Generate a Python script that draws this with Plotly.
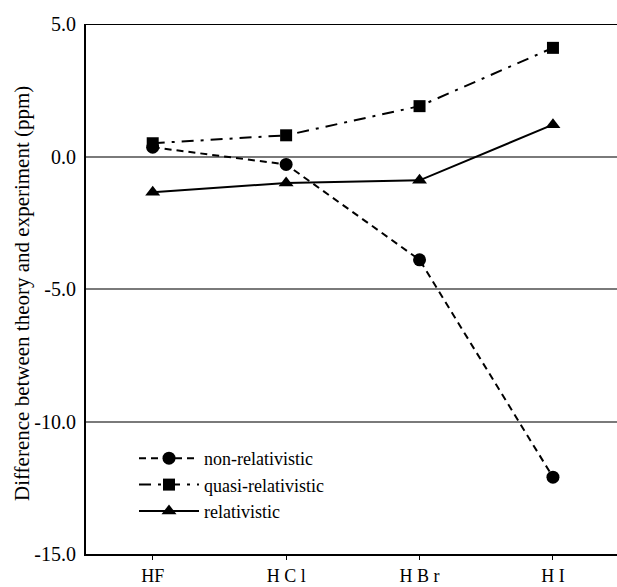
import plotly.graph_objects as go

categories = ["HF", "H C l", "H B r", "H I"]
non_relativistic = [0.35, -0.3, -3.9, -12.1]
quasi_relativistic = [0.5, 0.8, 1.9, 4.1]
relativistic = [-1.35, -1.0, -0.9, 1.2]
y_ticks = [5.0, 0.0, -5.0, -10.0, -15.0]
y_tick_labels = ["5.0", "0.0", "-5.0", "-10.0", "-15.0"]
y_title = "Difference between theory and experiment (ppm)"

SERIF = "Liberation Serif, Times New Roman, Times, serif"

fig = go.Figure()
fig.add_trace(go.Scatter(
    x=categories, y=non_relativistic, name="non-relativistic",
    mode="lines+markers",
    line=dict(color="black", width=2, dash="7px,5px"),
    marker=dict(symbol="circle", size=13, color="black")))
fig.add_trace(go.Scatter(
    x=categories, y=quasi_relativistic, name="quasi-relativistic",
    mode="lines+markers",
    line=dict(color="black", width=2, dash="12px,7px,3px,7px"),
    marker=dict(symbol="square", size=12, color="black")))
fig.add_trace(go.Scatter(
    x=categories, y=relativistic, name="relativistic",
    mode="lines+markers",
    line=dict(color="black", width=2),
    marker=dict(symbol="triangle-up", size=13, color="black")))

fig.add_shape(type="line", xref="paper", yref="y", x0=0, x1=1, y0=5, y1=5,
              line=dict(color="black", width=2))

plot_bottom = 554
plot_w = 617 - 86
plot_h = plot_bottom - 24
fig.add_annotation(text=y_title, textangle=-90, showarrow=False,
                   xref="paper", yref="paper",
                   x=(22 - 86) / plot_w, y=(plot_bottom - 294) / plot_h,
                   xanchor="center", yanchor="middle",
                   font=dict(size=21))

fig.update_layout(
    width=617, height=587,
    margin=dict(l=86, r=0, t=24, b=587 - plot_bottom, autoexpand=False),
    paper_bgcolor="white", plot_bgcolor="white",
    font=dict(family=SERIF, color="black", size=20),
    showlegend=True,
    legend=dict(x=(134 - 86) / plot_w, y=(plot_bottom - 440) / plot_h,
                xanchor="left", yanchor="top",
                font=dict(size=18), bgcolor="rgba(0,0,0,0)",
                tracegroupgap=0, itemwidth=60),
    xaxis=dict(type="category", range=[-0.5, 3.48],
               showline=True, linecolor="black", linewidth=2,
               ticks="outside", ticklen=4, tickcolor="black", tickwidth=1,
               showgrid=False, zeroline=False,
               tickfont=dict(size=18)),
    yaxis=dict(range=[-15, 5], tickvals=y_ticks, ticktext=y_tick_labels,
               showline=True, linecolor="black", linewidth=2,
               showgrid=True, gridcolor="#7a7a7a", gridwidth=1.5,
               zeroline=False, ticks="", tickfont=dict(size=20),
               automargin=False, ticklabelstandoff=4),
)

fig.write_html("out.html", config={"displayModeBar": False},
               post_script="document.body.style.margin='0';document.body.style.overflow='hidden';")
